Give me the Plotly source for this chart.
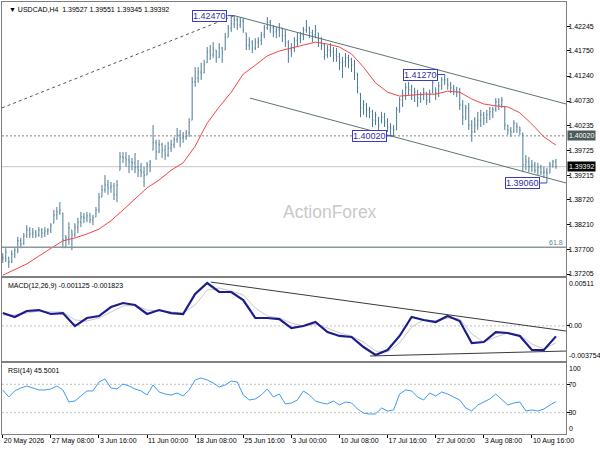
import numpy as np
import plotly.graph_objects as go

# ---- price bars (every other H4 slot) ----
bar_idx = list(range(0, 370, 2))

high = [
    1.3763, 1.3773, 1.3755, 1.3769, 1.3773, 1.3796, 1.3794, 1.3804, 1.3820, 1.3816,
    1.3814, 1.3810, 1.3816, 1.3814, 1.3816, 1.3814, 1.3824, 1.3851, 1.3857, 1.3867,
    1.3845, 1.3800, 1.3826, 1.3810, 1.3824, 1.3835, 1.3847, 1.3845, 1.3847, 1.3845,
    1.3841, 1.3857, 1.3886, 1.3902, 1.3922, 1.3912, 1.3908, 1.3906, 1.3912, 1.3969,
    1.3969, 1.3969, 1.3963, 1.3957, 1.3967, 1.3953, 1.3947, 1.3939, 1.3949, 1.3953,
    1.4024, 1.3994, 1.3994, 1.3988, 1.3984, 1.3990, 1.3994, 1.4000, 1.4018, 1.4014,
    1.4010, 1.4014, 1.4038, 1.4122, 1.4142, 1.4142, 1.4151, 1.4157, 1.4183, 1.4187,
    1.4193, 1.4177, 1.4191, 1.4183, 1.4212, 1.4228, 1.4244, 1.4247, 1.4244, 1.4244,
    1.4242, 1.4212, 1.4203, 1.4197, 1.4201, 1.4203, 1.4214, 1.4228, 1.4244, 1.4238,
    1.4228, 1.4224, 1.4232, 1.4222, 1.4218, 1.4197, 1.4191, 1.4203, 1.4212, 1.4214,
    1.4224, 1.4238, 1.4224, 1.4218, 1.4228, 1.4212, 1.4203, 1.4191, 1.4187, 1.4191,
    1.4183, 1.4181, 1.4171, 1.4163, 1.4171, 1.4167, 1.4161, 1.4157, 1.4130, 1.4089,
    1.4075, 1.4069, 1.4061, 1.4055, 1.4051, 1.4040, 1.4051, 1.4049, 1.4038, 1.4028,
    1.4024, 1.4061, 1.4081, 1.4096, 1.4110, 1.4112, 1.4106, 1.4100, 1.4096, 1.4091,
    1.4100, 1.4091, 1.4096, 1.4122, 1.4100, 1.4112, 1.4122, 1.4127, 1.4120, 1.4112,
    1.4106, 1.4102, 1.4100, 1.4075, 1.4065, 1.4069, 1.4034, 1.4040, 1.4051, 1.4055,
    1.4051, 1.4055, 1.4061, 1.4061, 1.4079, 1.4079, 1.4081, 1.4061, 1.4024, 1.4020,
    1.4034, 1.4028, 1.4020, 1.4008, 1.3963, 1.3959, 1.3953, 1.3949, 1.3947, 1.3943,
    1.3939, 1.3937, 1.3949, 1.3953, 1.3955]

low = [
    1.3743, 1.3745, 1.3733, 1.3743, 1.3753, 1.3763, 1.3773, 1.3780, 1.3794, 1.3794,
    1.3794, 1.3794, 1.3796, 1.3794, 1.3796, 1.3800, 1.3804, 1.3824, 1.3831, 1.3841,
    1.3773, 1.3773, 1.3780, 1.3769, 1.3796, 1.3804, 1.3816, 1.3824, 1.3826, 1.3824,
    1.3820, 1.3837, 1.3845, 1.3877, 1.3886, 1.3882, 1.3886, 1.3871, 1.3867, 1.3932,
    1.3947, 1.3939, 1.3926, 1.3932, 1.3926, 1.3918, 1.3918, 1.3898, 1.3922, 1.3928,
    1.3973, 1.3953, 1.3967, 1.3957, 1.3953, 1.3959, 1.3969, 1.3977, 1.3988, 1.3979,
    1.3988, 1.3994, 1.4000, 1.4034, 1.4102, 1.4110, 1.4116, 1.4130, 1.4151, 1.4157,
    1.4161, 1.4151, 1.4161, 1.4151, 1.4177, 1.4203, 1.4214, 1.4222, 1.4218, 1.4222,
    1.4212, 1.4177, 1.4177, 1.4171, 1.4177, 1.4181, 1.4187, 1.4201, 1.4218, 1.4212,
    1.4203, 1.4201, 1.4203, 1.4193, 1.4183, 1.4151, 1.4163, 1.4173, 1.4183, 1.4191,
    1.4197, 1.4212, 1.4201, 1.4193, 1.4201, 1.4183, 1.4177, 1.4157, 1.4161, 1.4163,
    1.4153, 1.4153, 1.4136, 1.4120, 1.4142, 1.4140, 1.4132, 1.4116, 1.4089, 1.4040,
    1.4045, 1.4040, 1.4038, 1.4020, 1.4024, 1.4008, 1.4028, 1.4020, 1.4010, 1.4004,
    1.4002, 1.4014, 1.4049, 1.4061, 1.4075, 1.4085, 1.4075, 1.4071, 1.4061, 1.4069,
    1.4075, 1.4065, 1.4069, 1.4089, 1.4075, 1.4081, 1.4096, 1.4106, 1.4096, 1.4089,
    1.4085, 1.4081, 1.4055, 1.4024, 1.4034, 1.4014, 1.3990, 1.4008, 1.4014, 1.4020,
    1.4024, 1.4028, 1.4034, 1.4038, 1.4051, 1.4055, 1.4059, 1.4014, 1.4004, 1.4000,
    1.4008, 1.4008, 1.4004, 1.3928, 1.3932, 1.3928, 1.3928, 1.3926, 1.3922, 1.3922,
    1.3916, 1.3906, 1.3926, 1.3937, 1.3935]

close = [
    1.3753, 1.3765, 1.3745, 1.3761, 1.3769, 1.3788, 1.3782, 1.3798, 1.3810, 1.3802,
    1.3806, 1.3800, 1.3810, 1.3804, 1.3808, 1.3810, 1.3820, 1.3841, 1.3847, 1.3851,
    1.3790, 1.3794, 1.3814, 1.3800, 1.3816, 1.3826, 1.3837, 1.3835, 1.3839, 1.3831,
    1.3835, 1.3851, 1.3877, 1.3892, 1.3902, 1.3896, 1.3900, 1.3882, 1.3902, 1.3959,
    1.3957, 1.3953, 1.3949, 1.3947, 1.3937, 1.3932, 1.3928, 1.3922, 1.3943, 1.3949,
    1.3988, 1.3969, 1.3984, 1.3973, 1.3963, 1.3977, 1.3984, 1.3994, 1.4004, 1.3998,
    1.4000, 1.4008, 1.4030, 1.4112, 1.4120, 1.4132, 1.4128, 1.4146, 1.4173, 1.4167,
    1.4177, 1.4161, 1.4181, 1.4173, 1.4203, 1.4222, 1.4230, 1.4238, 1.4228, 1.4236,
    1.4218, 1.4187, 1.4193, 1.4181, 1.4193, 1.4197, 1.4208, 1.4222, 1.4234, 1.4222,
    1.4214, 1.4218, 1.4224, 1.4206, 1.4193, 1.4177, 1.4181, 1.4197, 1.4201, 1.4208,
    1.4218, 1.4228, 1.4212, 1.4208, 1.4218, 1.4193, 1.4187, 1.4167, 1.4177, 1.4173,
    1.4167, 1.4163, 1.4151, 1.4153, 1.4161, 1.4157, 1.4146, 1.4130, 1.4100, 1.4059,
    1.4065, 1.4055, 1.4051, 1.4034, 1.4045, 1.4024, 1.4040, 1.4030, 1.4020, 1.4018,
    1.4014, 1.4055, 1.4075, 1.4085, 1.4100, 1.4096, 1.4085, 1.4091, 1.4079, 1.4085,
    1.4091, 1.4075, 1.4087, 1.4110, 1.4089, 1.4104, 1.4116, 1.4116, 1.4106, 1.4100,
    1.4096, 1.4091, 1.4065, 1.4040, 1.4059, 1.4024, 1.4010, 1.4024, 1.4034, 1.4045,
    1.4038, 1.4045, 1.4051, 1.4055, 1.4071, 1.4065, 1.4075, 1.4024, 1.4014, 1.4010,
    1.4028, 1.4020, 1.4014, 1.3943, 1.3949, 1.3939, 1.3943, 1.3932, 1.3937, 1.3928,
    1.3928, 1.3926, 1.3943, 1.3949, 1.3939]

# open = previous close, kept inside the bar's range
opn = np.clip(np.r_[close[0], close[:-1]], low, high)

# ---- moving average (red) ----
ma_idx = list(range(0, 369, 8))
ma = [1.3718, 1.3729, 1.3741, 1.3757, 1.3772, 1.3788, 1.3794, 1.3802, 1.3812, 1.3829,
      1.3851, 1.3873, 1.3896, 1.3912, 1.3932, 1.3947, 1.3981, 1.4028, 1.4061, 1.4091,
      1.4128, 1.4146, 1.4165, 1.4175, 1.4181, 1.4187, 1.4193, 1.4189, 1.4183, 1.4169,
      1.4142, 1.4110, 1.4091, 1.4083, 1.4085, 1.4087, 1.4087, 1.4093, 1.4091, 1.4077,
      1.4067, 1.4063, 1.4061, 1.4049, 1.4026, 1.4000, 1.3983]

# ---- MACD(12,26,9) ----
macd_idx = ma_idx
macd = [0.00137, 0.00095, 0.00159, 0.00169, 0.00127, 0.00137, -0.00002, 0.00084, 0.00105, 0.00201,
        0.00244, 0.00223, 0.00127, 0.00169, 0.00137, 0.00127, 0.00340, 0.00458, 0.00362, 0.00362,
        0.00276, 0.00084, 0.00084, 0.00073, -0.00023, -0.00002, 0.00041, -0.00066, -0.00108, -0.00119,
        -0.00226, -0.00311, -0.00258, -0.00108, 0.00095, 0.00063, 0.00041, 0.00105, 0.00052, -0.00183,
        -0.00173, -0.00066, -0.00076, -0.00108, -0.00258, -0.00258, -0.001125]
signal = [0.00116, 0.00116, 0.00137, 0.00159, 0.00148, 0.00148, 0.00063, 0.00052, 0.00084, 0.00148,
          0.00212, 0.00223, 0.00169, 0.00159, 0.00148, 0.00137, 0.00223, 0.00383, 0.00404, 0.00372,
          0.00330, 0.00191, 0.00105, 0.00084, 0.00030, -0.00002, 0.00020, -0.00023, -0.00076, -0.00108,
          -0.00173, -0.00269, -0.00279, -0.00183, -0.00012, 0.00063, 0.00052, 0.00084, 0.00073, -0.00087,
          -0.00173, -0.00119, -0.00076, -0.00098, -0.00194, -0.00247, -0.001823]

# ---- RSI(14) ----
rsi_idx = list(range(0, 369, 4))
rsi = [62.0, 52.1, 60.6, 64.8, 67.6, 64.8, 62.0, 62.0, 63.4, 67.6,
       62.0, 45.1, 46.5, 53.5, 60.6, 60.6, 73.2, 77.5, 64.8, 63.4,
       70.4, 67.6, 63.4, 60.6, 54.9, 69.0, 59.2, 56.3, 54.9, 57.7,
       53.5, 62.0, 76.1, 78.9, 76.1, 71.8, 66.2, 69.0, 74.6, 73.2,
       54.9, 47.9, 49.3, 54.9, 63.4, 52.1, 56.3, 42.3, 43.7, 47.9,
       60.6, 54.9, 46.5, 43.7, 42.3, 46.5, 40.8, 45.1, 43.7, 35.2,
       29.6, 28.2, 28.2, 36.6, 32.4, 33.8, 56.3, 62.0, 60.6, 52.1,
       47.9, 57.7, 53.5, 59.2, 56.3, 52.1, 47.9, 36.6, 32.4, 40.8,
       45.1, 49.3, 56.3, 47.9, 40.8, 43.7, 45.1, 32.4, 33.8, 32.4,
       35.2, 40.8, 45.5]

# ---- axis labels ----
time_ticks = list(range(0, 353, 32))
time_labels = ["20 May 2026", "27 May 08:00", "3 Jun 16:00", "11 Jun 00:00",
               "18 Jun 08:00", "25 Jun 16:00", "3 Jul 00:00", "10 Jul 08:00",
               "17 Jul 16:00", "27 Jul 00:00", "3 Aug 08:00", "10 Aug 16:00"]
price_ticks = [1.42245, 1.41750, 1.41240, 1.40730, 1.40235, 1.39725,
               1.39215, 1.38720, 1.38210, 1.37700, 1.37205]

# ---- drawn objects ----
swing_idx = [154, 294, 260, 362]
swing_price = [1.42470, 1.41270, 1.40020, 1.39060]
fib_line = [(-0.5, 1.4059), (154, 1.4247)]
chan_upper = [(154, 1.4247), (374.7, 1.4067)]
chan_lower = [(164.5, 1.4079), (374.7, 1.3906)]
macd_upper = [(138.4, 0.00468), (374.7, -0.00055)]
macd_lower = [(244.3, -0.00322), (374.7, -0.00269)]
level_support = 1.40020
level_fib618 = 1.3775
last_price = 1.39392

FONT = "Liberation Sans"
BAR = "#4a7a96"
FRAME = "#7f7f7f"
X_RANGE = [-0.5, 374.7]

fig = go.Figure()

fig.add_trace(go.Ohlc(
    x=bar_idx, open=opn, high=high, low=low, close=close,
    increasing_line_color=BAR, decreasing_line_color=BAR,
    line_width=1, tickwidth=0.25, hoverinfo="skip",
    xaxis="x", yaxis="y"))
fig.add_trace(go.Scatter(
    x=ma_idx, y=ma, mode="lines", line=dict(color="#f24545", width=1),
    xaxis="x", yaxis="y", hoverinfo="skip"))

fig.add_trace(go.Scatter(
    x=macd_idx, y=signal, mode="lines", line=dict(color="#c8c8c8", width=1),
    xaxis="x2", yaxis="y2", hoverinfo="skip"))
fig.add_trace(go.Scatter(
    x=macd_idx, y=macd, mode="lines", line=dict(color="#1c1c8c", width=2.2),
    xaxis="x2", yaxis="y2", hoverinfo="skip"))

fig.add_trace(go.Scatter(
    x=rsi_idx, y=rsi, mode="lines", line=dict(color="#3d9bf5", width=1),
    xaxis="x3", yaxis="y3", hoverinfo="skip"))

shapes = []


def seg(p0, p1, xref, yref, color, width=1, dash="solid"):
    shapes.append(dict(type="line", xref=xref, yref=yref,
                       x0=p0[0], y0=p0[1], x1=p1[0], y1=p1[1],
                       line=dict(color=color, width=width, dash=dash), layer="above"))


def hline(y, yref, color, width=1, dash="solid", layer="below"):
    shapes.append(dict(type="line", xref="x domain", yref=yref, x0=0, x1=1, y0=y, y1=y,
                       line=dict(color=color, width=width, dash=dash), layer=layer))


hline(last_price, "y", "#c6c6c6")
hline(level_support, "y", "#808080", dash="2px,2px", layer="above")
hline(level_fib618, "y", "#8a979c", width=1.5, layer="above")
seg(fib_line[0], fib_line[1], "x", "y", "#555555", dash="3px,3px")
seg(chan_upper[0], chan_upper[1], "x", "y", "#5f7470")
seg(chan_lower[0], chan_lower[1], "x", "y", "#5f7470")
shapes.append(dict(type="line", xref="x2 domain", yref="y2", x0=0, x1=1, y0=0, y1=0,
                   line=dict(color="#c0c0c0", width=1, dash="2px,2px"), layer="below"))
for lv in (70, 30):
    shapes.append(dict(type="line", xref="x3 domain", yref="y3", x0=0, x1=1, y0=lv, y1=lv,
                       line=dict(color="#c0c0c0", width=1, dash="2px,2px"), layer="below"))
seg(macd_upper[0], macd_upper[1], "x2", "y2", "#3a3a3a")
seg(macd_lower[0], macd_lower[1], "x2", "y2", "#3a3a3a")

ann = []
small = dict(family=FONT, size=7, color="black")

# swing labels with connector
for bi, pr in zip(swing_idx, swing_price):
    seg((bi - 4.5, pr), (bi, pr), "x", "y", "#3c3cc0")
    ann.append(dict(x=bi - 4.5, y=pr, xref="x", yref="y", xanchor="right", yanchor="middle",
                    text=f"{pr:.5f}", showarrow=False, bgcolor="white",
                    bordercolor="#3c3cc0", borderwidth=1, borderpad=0,
                    font=dict(family=FONT, size=9, color="#2f2fa0")))

ann.append(dict(x=0, y=1, xref="paper", yref="paper", xanchor="left", yanchor="top",
                xshift=5, yshift=-2, showarrow=False, font=small,
                text="▼ USDCAD,H4  1.39527 1.39551 1.39345 1.39392"))
ann.append(dict(x=0.5807, y=0.514, xref="paper", yref="paper", showarrow=False,
                text="ActionForex", font=dict(family=FONT, size=17.5, color="#c9c9c9")))
ann.append(dict(x=1, y=level_fib618, xref="paper", yref="y", xanchor="right", yanchor="bottom",
                xshift=-1, yshift=-1, showarrow=False, text="61.8",
                font=dict(family=FONT, size=7, color="#6b7d8a")))
ann.append(dict(x=0, y=0.361, xref="paper", yref="paper", xanchor="left", yanchor="top",
                xshift=4, yshift=-2, showarrow=False, font=small,
                text="MACD(12,26,9) -0.001125 -0.001823"))
ann.append(dict(x=0, y=0.1644, xref="paper", yref="paper", xanchor="left", yanchor="top",
                xshift=4, yshift=-2, showarrow=False, font=small,
                text="RSI(14) 45.5001"))

# right-hand tags
for pr, bg in ((level_support, "#4c5a5a"), (last_price, "#000000")):
    ann.append(dict(x=1, y=pr, xref="paper", yref="y", xanchor="left", yanchor="middle",
                    xshift=1, showarrow=False, text=f"{pr:.5f}", bgcolor=bg, borderpad=1,
                    font=dict(family=FONT, size=7, color="white")))
for txt, yv, yr, anc in (("0.00511", 0.00511, "y2", "top"), ("-0.003754", -0.003754, "y2", "bottom"),
                         ("100", 100, "y3", "top"), ("0", 0, "y3", "bottom")):
    ann.append(dict(x=1, y=yv, xref="paper", yref=yr, xanchor="left", yanchor=anc,
                    xshift=1, showarrow=False, text=txt, font=small))

axis_common = dict(showgrid=False, zeroline=False, showline=True, mirror=True,
                   linecolor=FRAME, linewidth=1, tickfont=small)
yticks = dict(ticks="outside", ticklen=3, tickcolor="black", ticklabelstandoff=-3)

fig.update_layout(
    width=600, height=450,
    margin=dict(l=2, r=34, t=2, b=16),
    paper_bgcolor="white", plot_bgcolor="white",
    showlegend=False,
    font=dict(family=FONT, size=7, color="black"),
    shapes=shapes, annotations=ann,
    xaxis=dict(**axis_common, range=X_RANGE, anchor="y", showticklabels=False,
               ticks="", rangeslider=dict(visible=False)),
    xaxis2=dict(**axis_common, range=X_RANGE, anchor="y2", showticklabels=False, ticks=""),
    xaxis3=dict(**axis_common, range=X_RANGE, anchor="y3",
                tickvals=time_ticks, ticktext=time_labels, ticks="outside", tickangle=0,
                ticklen=3, tickcolor="black", ticklabelposition="outside right"),
    yaxis=dict(**axis_common, **yticks, domain=[0.3657, 1], range=[1.37164, 1.42748],
               side="right", anchor="x", tickvals=price_ticks,
               ticktext=[f"{v:.5f}" for v in price_ticks]),
    yaxis2=dict(**axis_common, **yticks, domain=[0.169, 0.361], range=[-0.003754, 0.00511],
                side="right", anchor="x2", tickvals=[0], ticktext=["0.00"]),
    yaxis3=dict(**axis_common, **yticks, domain=[0, 0.1644], range=[0, 100], side="right",
                anchor="x3", tickvals=[70, 30], ticktext=["70", "30"]),
)

fig.write_html("out.html", config={"displayModeBar": False})

# drop the browser's default body margin so the chart sits at the page corner
with open("out.html", "r", encoding="utf-8") as f:
    html = f.read()
html = html.replace("<head>", "<head><style>body{margin:0;}</style>", 1)
with open("out.html", "w", encoding="utf-8") as f:
    f.write(html)
